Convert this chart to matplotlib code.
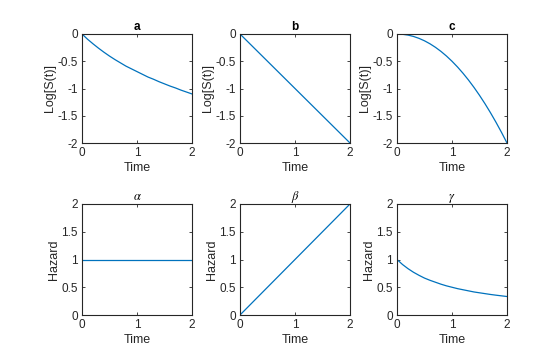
import matplotlib
matplotlib.use("Agg")
import matplotlib.pyplot as plt

plt.rcParams.update({"font.family": ["Liberation Sans", "DejaVu Sans"],
                     "mathtext.fontset": "stix"})

# time grid (every 0.1)
t = [0.0, 0.1, 0.2, 0.3, 0.4, 0.5, 0.6, 0.7, 0.8, 0.9, 1.0,
     1.1, 1.2, 1.3, 1.4, 1.5, 1.6, 1.7, 1.8, 1.9, 2.0]

# top row: Log[S(t)]
logs_a = [0.0, -0.095, -0.18, -0.26, -0.335, -0.405, -0.47, -0.53, -0.59, -0.64, -0.69,
          -0.74, -0.79, -0.83, -0.875, -0.915, -0.955, -0.99, -1.03, -1.065, -1.10]
logs_b = [0.0, -0.1, -0.2, -0.3, -0.4, -0.5, -0.6, -0.7, -0.8, -0.9, -1.0,
          -1.1, -1.2, -1.3, -1.4, -1.5, -1.6, -1.7, -1.8, -1.9, -2.0]
logs_c = [0.0, -0.005, -0.02, -0.045, -0.08, -0.125, -0.18, -0.245, -0.32, -0.405, -0.5,
          -0.605, -0.72, -0.845, -0.98, -1.125, -1.28, -1.445, -1.62, -1.805, -2.0]

# bottom row: hazard
haz_alpha = [1.0] * 21
haz_beta = [0.0, 0.1, 0.2, 0.3, 0.4, 0.5, 0.6, 0.7, 0.8, 0.9, 1.0,
            1.1, 1.2, 1.3, 1.4, 1.5, 1.6, 1.7, 1.8, 1.9, 2.0]
haz_gamma = [1.0, 0.91, 0.835, 0.77, 0.715, 0.665, 0.625, 0.59, 0.555, 0.525, 0.50,
             0.475, 0.455, 0.435, 0.415, 0.40, 0.385, 0.37, 0.357, 0.345, 0.333]

top = [("a", logs_a), ("b", logs_b), ("c", logs_c)]
bottom = [(r"$\alpha$", haz_alpha), (r"$\beta$", haz_beta), (r"$\gamma$", haz_gamma)]

W, H = 560, 361
fig = plt.figure(figsize=(W / 100, H / 100), dpi=100)
lefts = [82, 240, 397]
BLUE = "#0072BD"
INK = "#262626"


def style(ax):
    ax.set_xlim(0, 2)
    ax.set_xticks([0, 1, 2])
    ax.tick_params(direction="in", length=2.5, width=0.6, labelsize=8.5,
                   top=True, right=True, pad=3, colors=INK, labelcolor=INK)
    for s in ax.spines.values():
        s.set_linewidth(0.8)
        s.set_color(INK)
    ax.set_xlabel("Time", fontsize=9, color=INK, labelpad=2)


for i, (title, y) in enumerate(top):
    ax = fig.add_axes([lefts[i] / W, (H - 143) / H, 110 / W, 109 / H])
    ax.plot(t, y, color=BLUE, lw=0.9)
    style(ax)
    ax.set_ylim(-2, 0)
    ax.set_yticks([-2, -1.5, -1, -0.5, 0])
    ax.set_yticklabels(["-2", "-1.5", "-1", "-0.5", "0"])
    ax.set_ylabel("Log[S(t)]", fontsize=9, color=INK, labelpad=1)
    ax.set_title(title, fontsize=8.5, fontweight="bold", pad=3)

for i, (title, y) in enumerate(bottom):
    ax = fig.add_axes([lefts[i] / W, (H - 315) / H, 110 / W, 111 / H])
    ax.plot(t, y, color=BLUE, lw=0.9)
    style(ax)
    ax.set_ylim(0, 2)
    ax.set_yticks([0, 0.5, 1, 1.5, 2])
    ax.set_yticklabels(["0", "0.5", "1", "1.5", "2"])
    ax.set_ylabel("Hazard", fontsize=9, color=INK, labelpad=1)
    ax.set_title(title, fontsize=9, pad=3)

fig.savefig("out.png", dpi=100)
